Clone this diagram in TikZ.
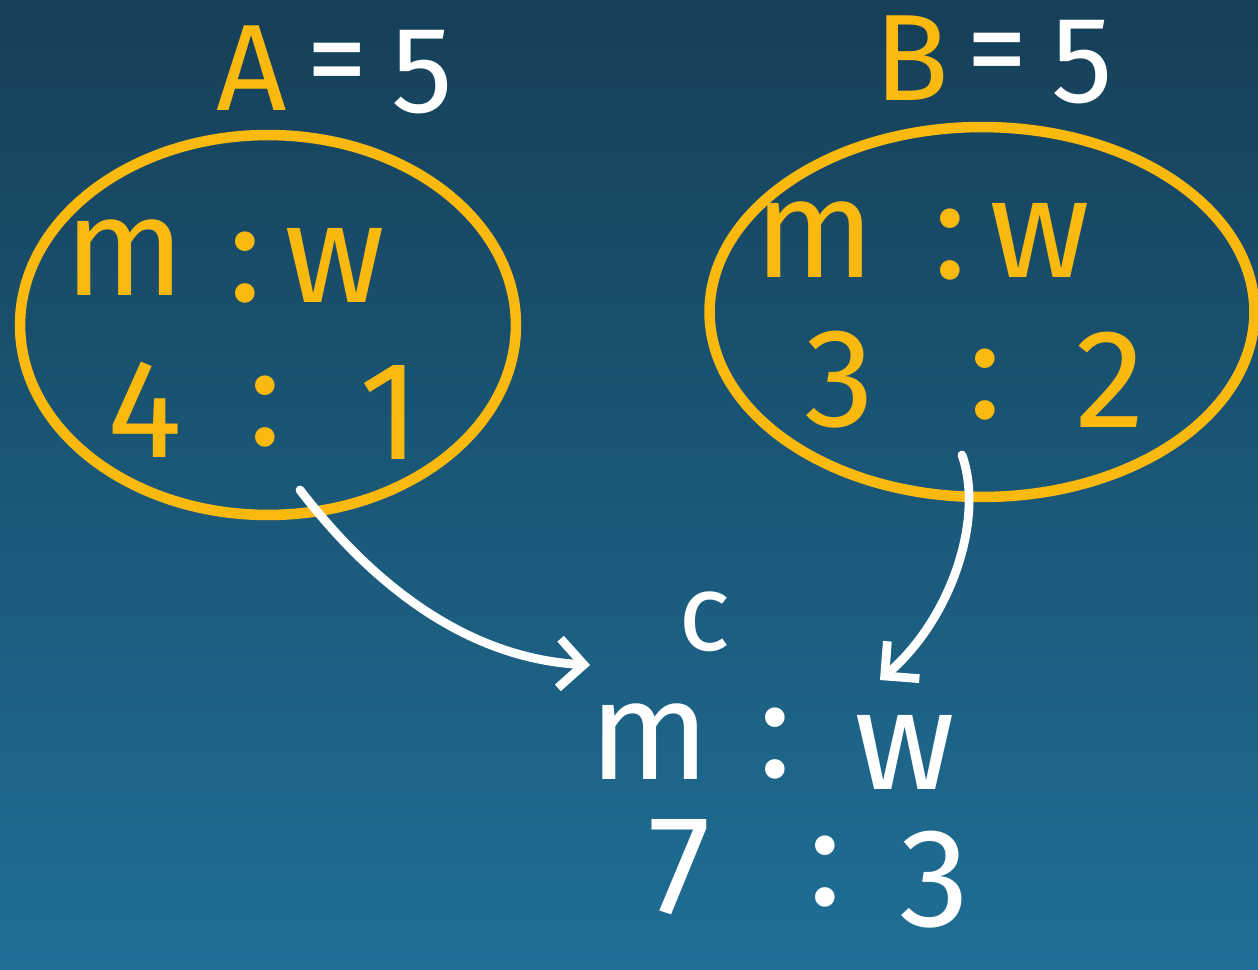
\documentclass[tikz,border=0pt]{standalone}
\usepackage{fontspec}
\setsansfont{Fira Sans}
\usetikzlibrary{arrows.meta,shapes.geometric}
\definecolor{chalkyel}{HTML}{F9B90E}
\definecolor{boardtop}{HTML}{163F58}
\definecolor{boardbot}{HTML}{1F6F96}
\tikzset{
  chalk/.style={font=\sffamily\fontsize{80}{90}\selectfont,inner sep=0pt},
  head/.style={font=\sffamily\fontsize{70}{80}\selectfont,inner sep=0pt},
  blob/.style={draw=chalkyel,line width=6pt,ellipse,inner sep=0pt},
  link/.style={draw=white,line width=5pt,line cap=round,-{Straight Barb[length=14pt,width=28pt,line width=5pt]}}
}
\begin{document}
\begin{tikzpicture}[x=0.02cm,y=-0.02cm]
\shade[top color=boardtop,bottom color=boardbot] (0,0) rectangle (1258,970);
\useasboundingbox (0,0) rectangle (1258,970);
% headings
\node[head,text=chalkyel] (A) at (252,68) {A};
\node[head,text=white] (Aeq) at (337,72) {=};
\node[head,text=white] (Aval) at (422,72) {5};
\node[head,text=chalkyel] (B) at (912,58) {B};
\node[head,text=white] (Beq) at (997,62) {=};
\node[head,text=white] (Bval) at (1082,62) {5};
% the two sets
\node[blob,minimum width=9.92cm,minimum height=7.6cm] (setA) at (268,325) {};
\node[blob,minimum width=10.9cm,minimum height=7.4cm] (setB) at (982,312) {};
% contents
\foreach \t/\x/\y/\n in {m/125/258/a1, :/245/268/a2, w/335/265/a3,
                         4/145/410/a4, :/265/412/a5, 1/390/412/a6}
  \node[chalk,text=chalkyel] (\n) at (\x,\y) {\t};
\foreach \t/\x/\y/\n in {m/815/240/b1, :/950/245/b2, w/1040/240/b3,
                         3/840/380/b4, :/985/385/b5, 2/1110/380/b6}
  \node[chalk,text=chalkyel] (\n) at (\x,\y) {\t};
% result
\node[chalk,text=white,font=\sffamily\fontsize{62}{70}\selectfont] (c) at (705,622) {c};
\foreach \t/\x/\y/\n in {m/650/742/c1, :/775/744/c2, w/905/752/c3,
                         7/680/867/c4, :/825/872/c5, 3/935/880/c6}
  \node[chalk,text=white] (\n) at (\x,\y) {\t};
% arrows
\coordinate (fromA) at (300,490);
\coordinate (toA) at (590,665);
\coordinate (fromB) at (962,455);
\coordinate (toB) at (880,680);
\draw[link] (fromA) .. controls (400,620) and (500,660) .. (toA);
\draw[link] (fromB) .. controls (985,520) and (950,620) .. (toB);
\end{tikzpicture}
\end{document}
